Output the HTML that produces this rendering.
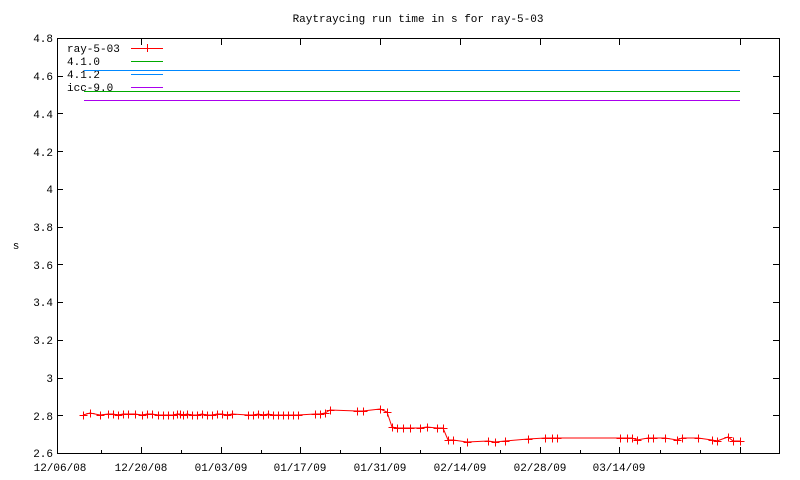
<!DOCTYPE html>
<html><head><style>body{margin:0;background:#fff}svg{display:block}text{font-family:"Liberation Mono",monospace;font-size:11px;fill:#000}</style></head><body>
<svg width="800" height="480" xmlns="http://www.w3.org/2000/svg" shape-rendering="crispEdges">
<rect x="57.5" y="38.5" width="722" height="415" fill="none" stroke="#000"/>
<g stroke="#000">
<path d="M57 38.5h6M57 76.5h6M57 113.5h6M57 151.5h6M57 189.5h6M57 227.5h6M57 264.5h6M57 302.5h6M57 340.5h6M57 378.5h6M57 415.5h6M779 76.5h-6M779 113.5h-6M779 151.5h-6M779 189.5h-6M779 227.5h-6M779 264.5h-6M779 302.5h-6M779 340.5h-6M779 378.5h-6M779 415.5h-6"/>
<path d="M141.5 453v-6M221.5 453v-6M300.5 453v-6M380.5 453v-6M460.5 453v-6M540.5 453v-6M619.5 453v-6M740.5 453v-6M101.5 453v-3M181.5 453v-3M261.5 453v-3M340.5 453v-3M420.5 453v-3M500.5 453v-3M580.5 453v-3M660.5 453v-3M700.5 453v-3M141.5 39v6M221.5 39v6M300.5 39v6M380.5 39v6M460.5 39v6M540.5 39v6M619.5 39v6M740.5 39v6"/>
</g>
<g text-anchor="end">
<text x="53" y="42">4.8</text><text x="53" y="80">4.6</text><text x="53" y="118">4.4</text><text x="53" y="156">4.2</text><text x="53" y="193">4</text><text x="53" y="231">3.8</text><text x="53" y="269">3.6</text><text x="53" y="306">3.4</text><text x="53" y="344">3.2</text><text x="53" y="382">3</text><text x="53" y="420">2.8</text><text x="53" y="457">2.6</text>
</g>
<g text-anchor="middle">
<text x="60" y="471">12/06/08</text><text x="141" y="471">12/20/08</text><text x="221" y="471">01/03/09</text><text x="300" y="471">01/17/09</text><text x="380" y="471">01/31/09</text><text x="460" y="471">02/14/09</text><text x="540" y="471">02/28/09</text><text x="619" y="471">03/14/09</text>
<text x="418" y="22">Raytraycing run time in s for ray-5-03</text>
<text x="16" y="249">s</text>
</g>
<text x="67" y="52">ray-5-03</text><text x="67" y="65">4.1.0</text><text x="67" y="78">4.1.2</text><text x="67" y="91">icc-9.0</text>
<path d="M131 48.5h32M147.5 44v8" stroke="#f00"/>
<path d="M131 61.5h32M84 91.5h656" stroke="#0a0"/>
<path d="M131 74.5h32M84 70.5h656" stroke="#08f"/>
<path d="M131 87.5h32M84 100.5h656" stroke="#a0e"/>
<polyline fill="none" stroke="#f00" shape-rendering="auto" points="83,415 90,413 100,415 108,414 113,414 118,415 123,414 128,414 135,414 142,415 147,414 152,414 158,415 163,415 168,415 173,415 177,414 180,414 183,415 187,414 192,415 197,415 202,414 207,415 212,415 217,414 222,414 227,415 232,414 248,415 253,415 258,414 263,415 268,414 273,415 278,415 283,415 288,415 293,415 298,415 315,414 320,414 325,413 330,410 357,411 363,411 380,409 387,412 392,427 397,428 403,428 410,428 420,428 427,427 437,428 443,428 448,440 453,440 467,442 488,441 495,442 505,441 528,439 545,438 552,438 557,438 620,438 627,438 632,438 637,440 648,438 653,438 665,438 677,440 682,438 698,438 712,440 717,441 728,437 733,441 740,441"/>
<g stroke="#f00" transform="translate(0.5,0.5)">
<path d="M79 415h8M83 411v8M86 413h8M90 409v8M96 415h8M100 411v8M104 414h8M108 410v8M109 414h8M113 410v8M114 415h8M118 411v8M119 414h8M123 410v8M124 414h8M128 410v8M131 414h8M135 410v8M138 415h8M142 411v8M143 414h8M147 410v8M148 414h8M152 410v8M154 415h8M158 411v8M159 415h8M163 411v8M164 415h8M168 411v8M169 415h8M173 411v8M173 414h8M177 410v8M176 414h8M180 410v8M179 415h8M183 411v8M183 414h8M187 410v8M188 415h8M192 411v8M193 415h8M197 411v8M198 414h8M202 410v8M203 415h8M207 411v8M208 415h8M212 411v8M213 414h8M217 410v8M218 414h8M222 410v8M223 415h8M227 411v8M228 414h8M232 410v8"/>
<path d="M244 415h8M248 411v8M249 415h8M253 411v8M254 414h8M258 410v8M259 415h8M263 411v8M264 414h8M268 410v8M269 415h8M273 411v8M274 415h8M278 411v8M279 415h8M283 411v8M284 415h8M288 411v8M289 415h8M293 411v8M294 415h8M298 411v8M311 414h8M315 410v8M316 414h8M320 410v8M321 413h8M325 409v8M326 410h8M330 406v8M353 411h8M357 407v8M359 411h8M363 407v8M376 409h8M380 405v8M383 412h8M387 408v8M388 427h8M392 423v8M393 428h8M397 424v8M399 428h8M403 424v8M406 428h8M410 424v8M416 428h8M420 424v8M423 427h8M427 423v8M433 428h8M437 424v8M439 428h8M443 424v8"/>
<path d="M444 440h8M448 436v8M449 440h8M453 436v8M463 442h8M467 438v8M484 441h8M488 437v8M491 442h8M495 438v8M501 441h8M505 437v8M524 439h8M528 435v8M541 438h8M545 434v8M548 438h8M552 434v8M553 438h8M557 434v8M616 438h8M620 434v8M623 438h8M627 434v8M628 438h8M632 434v8M633 440h8M637 436v8M644 438h8M648 434v8M649 438h8M653 434v8M661 438h8M665 434v8M673 440h8M677 436v8M678 438h8M682 434v8M694 438h8M698 434v8M708 440h8M712 436v8M713 441h8M717 437v8M724 437h8M728 433v8M729 441h8M733 437v8M736 441h8M740 437v8"/>
</g>
</svg>
</body></html>
